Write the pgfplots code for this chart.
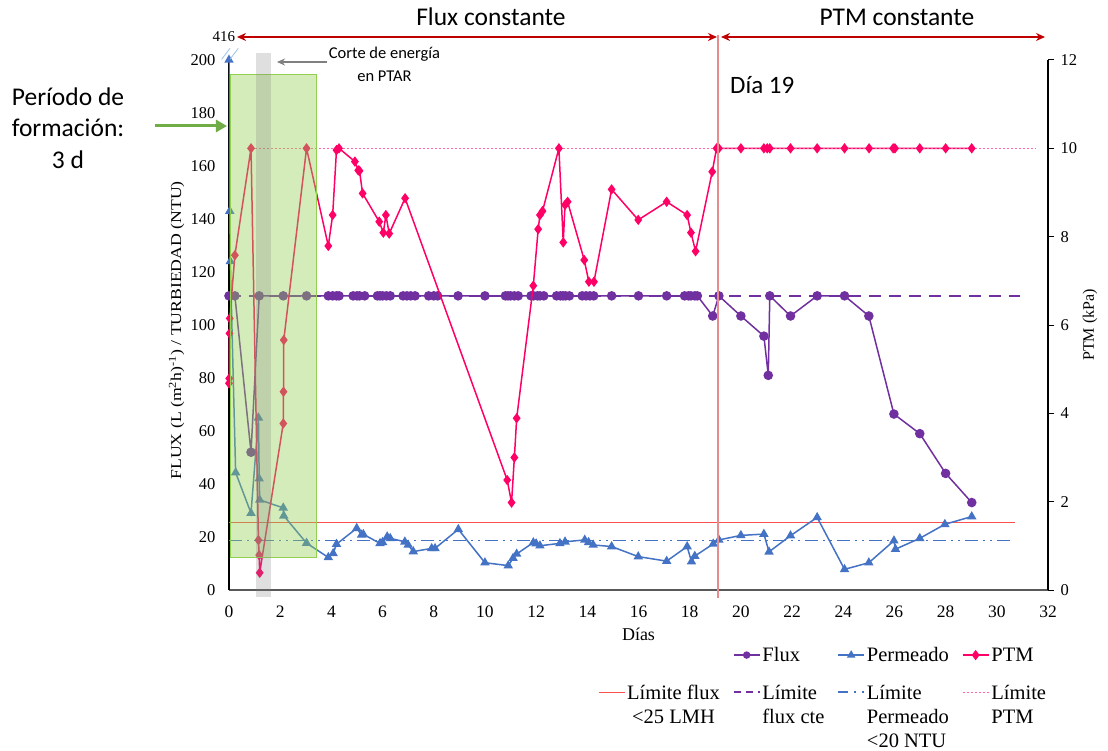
\documentclass[border=0pt]{standalone}
\usepackage{fontspec}
\setmainfont{Liberation Serif}
\newfontfamily\calfont{Carlito}
\usepackage{pgfplots}
\pgfplotsset{compat=1.18}
\usetikzlibrary{arrows.meta}
\definecolor{fluxc}{RGB}{112,48,160}
\definecolor{permc}{RGB}{68,114,196}
\definecolor{ptmc}{RGB}{255,0,102}
\definecolor{limred}{RGB}{250,80,80}
\definecolor{darkred}{RGB}{192,0,0}
\definecolor{greenf}{RGB}{146,208,80}
\definecolor{greenarr}{RGB}{112,173,71}
\definecolor{vline}{RGB}{230,140,140}
\definecolor{breakc}{RGB}{155,194,230}

\pgfplotstableread{
x y
0 111
0.23 111
0.86 52
1.18 111
2.12 111
3.03 111
3.88 111
4.05 111
4.2 111
4.3 111
4.85 111
5.0 111
5.1 111
5.3 111
5.8 111
5.9 111
6.0 111
6.15 111
6.3 111
6.8 111
6.95 111
7.1 111
7.27 111
7.8 111
8.0 111
8.15 111
8.95 111
10.0 111
10.8 111
10.9 111
11.0 111
11.15 111
11.3 111
11.8 111
11.9 111
12.05 111
12.15 111
12.3 111
12.8 111
12.95 111
13.05 111
13.15 111
13.3 111
13.8 111
13.95 111
14.1 111
14.25 111
14.95 111
16.0 111
17.1 111
17.8 111
17.95 111
18.05 111
18.2 111
18.3 111
18.9 103.4
19.14 111
20.0 103.4
20.9 95.8
21.07 81
21.13 111
21.94 103.4
22.98 111
24.05 111
25.0 103.4
25.98 66.4
26.99 59
28.0 44
29.02 33
}\fluxdata

\pgfplotstableread{
x y
0 200
0.03 143
0.05 124
0.26 44.3
0.86 29
1.15 65
1.18 42
1.2 34
2.12 31
2.14 28
3.03 17.7
3.88 12.3
4.07 13.8
4.2 17.3
4.99 23.3
5.18 20.8
5.25 21
5.9 17.6
6.0 18
6.18 20.1
6.3 19.5
6.87 18.2
7.0 17
7.2 14.5
7.92 15.7
8.05 15.7
8.96 22.9
10.0 10.3
10.91 9.2
11.1 12
11.24 13.6
11.89 17.9
12.0 17.5
12.15 16.7
12.93 17.6
13.13 18.2
13.9 18.9
14.05 18
14.23 17
14.95 16.4
15.99 12.6
17.1 10.9
17.9 16.4
18.07 10.7
18.2 12.8
18.92 17.4
19.14 18.9
20.0 20.6
20.9 21.1
21.1 14.4
21.94 20.5
22.98 27.4
24.05 7.8
25.0 10.3
25.98 18.6
26.04 15.4
26.99 19.5
27.97 24.8
29.02 27.7
}\permdata

\pgfplotstableread{
x y
0 4.68
0.01 4.79
0.02 5.81
0.03 6.15
0.23 7.58
0.86 10
1.15 1.13
1.18 0.79
1.2 0.39
2.12 3.77
2.13 4.49
2.14 5.66
3.03 10
3.88 7.79
4.05 8.49
4.2 9.96
4.3 10
4.92 9.7
5.05 9.5
5.1 9.49
5.22 8.98
5.87 8.34
6.03 8.09
6.13 8.49
6.26 8.07
6.88 8.87
10.87 2.49
11.04 1.98
11.15 3.0
11.24 3.89
11.89 6.89
12.08 8.17
12.15 8.49
12.25 8.58
12.89 10
13.06 7.87
13.13 8.72
13.23 8.79
13.88 7.47
14.06 6.98
14.26 6.98
14.95 9.07
15.99 8.38
17.1 8.79
17.9 8.49
18.05 8.09
18.23 7.67
18.88 9.47
19.05 10
19.14 10
20.0 10
20.9 10
21.03 10
21.13 10
21.94 10
22.98 10
24.05 10
25.01 10
25.95 10
26.02 10
26.99 10
28.0 10
29.02 10
}\ptmdata

\begin{document}
\begin{tikzpicture}
\path[use as bounding box] (-229pt,-160pt) rectangle (879pt,590pt);
\begin{axis}[
  at={(0pt,0pt)}, anchor=south west, scale only axis, width=819pt, height=530pt,
  xmin=0, xmax=32, ymin=0, ymax=200,
  axis x line*=bottom, axis y line*=left,
  axis line style={-},
  x axis line style={draw=black!65, line width=1.8pt},
  y axis line style={draw=black, line width=1.2pt},
  xtick={0,2,...,32}, ytick={0,20,...,200},
  major tick length=0pt,
  /pgf/number format/assume math mode=true,
  xticklabel style={font=\fontsize{17.5}{17.5}\selectfont, yshift=-12pt},
  yticklabel style={font=\fontsize{16.5}{16.5}\selectfont, xshift=-10pt},
  xlabel={Días},
  ylabel={\scalebox{1.18}[1]{FLUX (L (m\textsuperscript{2}h)\textsuperscript{-1}) / TURBIEDAD (NTU)}},
  xlabel style={at={(axis description cs:0.5,-0.083)}, anchor=center, font=\fontsize{18}{18}\selectfont},
  ylabel style={at={(axis description cs:-0.064,0.49)}, anchor=center, font=\fontsize{15}{15}\selectfont},
]
\addplot[limred, line width=1pt] coordinates {(0,25.3) (30.7,25.3)};
\addplot[fluxc, line width=1.5pt, dash pattern=on 12pt off 8pt] coordinates {(0,111) (30.9,111)};
\addplot[permc, line width=1.5pt, dash pattern=on 13pt off 5pt on 2pt off 5pt on 2pt off 5pt] coordinates {(0,18.7) (30.5,18.7)};
\addplot[permc, line width=1.5pt, mark=triangle*, mark size=4pt, mark options={solid}] table[x=x,y=y] {\permdata};
\addplot[fluxc, line width=1.5pt, mark=*, mark size=4pt, mark options={solid}] table[x=x,y=y] {\fluxdata};
\end{axis}
\begin{axis}[
  at={(0pt,0pt)}, anchor=south west, scale only axis, width=819pt, height=530pt,
  xmin=0, xmax=32, ymin=0, ymax=12,
  axis y line*=right, axis x line=none, axis line style={-},
  y axis line style={draw=black, line width=1.2pt},
  ytick={0,2,...,12},
  ytick align=outside, major tick length=6pt, tick style={black, line width=1pt},
  /pgf/number format/assume math mode=true,
  yticklabel style={font=\fontsize{16.5}{16.5}\selectfont, xshift=3pt},
  ylabel={PTM (kPa)},
  ylabel style={at={(axis description cs:1.0513,0.5)}, anchor=center, font=\fontsize{16}{16}\selectfont},
  clip=false,
  legend columns=4,
  legend image code/.code={\draw[mark repeat=2,mark phase=2,#1] plot coordinates {(0pt,0pt) (13pt,0pt) (26pt,0pt)};},
  legend style={draw=none, fill=none, at={(0.447,-0.1)}, anchor=north west,
    font=\fontsize{20.5}{24}\selectfont, legend cell align=left,
    /tikz/every even column/.append style={column sep=11pt},
    row sep=16pt},
]
\addlegendimage{empty legend}\addlegendentry{}
\addlegendimage{fluxc, line width=1.4pt, mark=*, mark size=3pt}\addlegendentry{Flux}
\addlegendimage{permc, line width=1.4pt, mark=triangle*, mark size=3.5pt}\addlegendentry{Permeado}
\addplot[ptmc, line width=1.5pt, mark=diamond*, mark size=4pt] table[x=x,y=y] {\ptmdata};
\addlegendentry{PTM}
\addlegendimage{limred, line width=0.8pt}\addlegendentry{\begin{tabular}[t]{@{}c@{}}Límite flux\\<25 LMH\end{tabular}\hspace{-6pt}}
\addlegendimage{fluxc, line width=1.5pt, dash pattern=on 7pt off 5pt}\addlegendentry{\begin{tabular}[t]{@{}l@{}}Límite\\flux cte\end{tabular}}
\addlegendimage{permc, line width=1.5pt, dash pattern=on 10pt off 6pt on 2pt off 6pt}\addlegendentry{\begin{tabular}[t]{@{}l@{}}Límite\\Permeado\\<20 NTU\end{tabular}\hspace{12pt}}
\addplot[ptmc!60, line width=0.7pt, dash pattern=on 2pt off 2pt] coordinates {(0.86,10) (31.55,10)};
\addlegendentry{\begin{tabular}[t]{@{}l@{}}Límite\\PTM\end{tabular}}
\end{axis}
% annotations (1pt = 1px of the reference; origin at axis lower-left)
\begin{scope}[x=1pt, y=1pt]
\fill[greenf, fill opacity=0.4] (2,32.3) rectangle (87.7,515.7);
\draw[greenf, line width=1pt] (2,32.3) rectangle (87.7,515.7);
\fill[black!50, fill opacity=0.25] (27,-7) rectangle (42,537);
\draw[vline, line width=1.5pt] (489,555) -- (489,-8);
\draw[darkred, line width=1.5pt, {Stealth[length=9pt,width=8pt]}-{Stealth[length=9pt,width=8pt]}] (8,553) -- (488,553);
\draw[darkred, line width=1.5pt, {Stealth[length=9pt,width=8pt]}-{Stealth[length=9pt,width=8pt]}] (492,553) -- (816,553);
\node[font=\calfont\fontsize{25.5}{25.5}\selectfont] at (262,573) {Flux constante};
\node[font=\calfont\fontsize{25.5}{25.5}\selectfont] at (668,573) {PTM constante};
\node[font=\calfont\fontsize{25}{25}\selectfont, anchor=west, inner sep=0pt] at (501,505) {Día 19};
\node[font=\fontsize{15}{15}\selectfont] at (-5,553) {416};
\draw[breakc, line width=0.8pt] (-7.3,530.7) -- (1,541.7) (1,530.7) -- (9.3,541.7);
\node[font=\calfont\fontsize{16.5}{23}\selectfont, align=center] at (155.5,526) {Corte de energía\\en PTAR};
\draw[black!50, line width=1.5pt, -{Stealth[length=8pt,width=7pt]}] (98,528) -- (48,528);
\node[font=\calfont\fontsize{25.5}{31.5}\selectfont, align=center] at (-161,462) {Período de\\formación:\\3 d};
\draw[greenarr, line width=3pt, -{Triangle[length=11pt,width=12pt]}] (-74,464) -- (-2,464);
\end{scope}
\end{tikzpicture}
\end{document}
